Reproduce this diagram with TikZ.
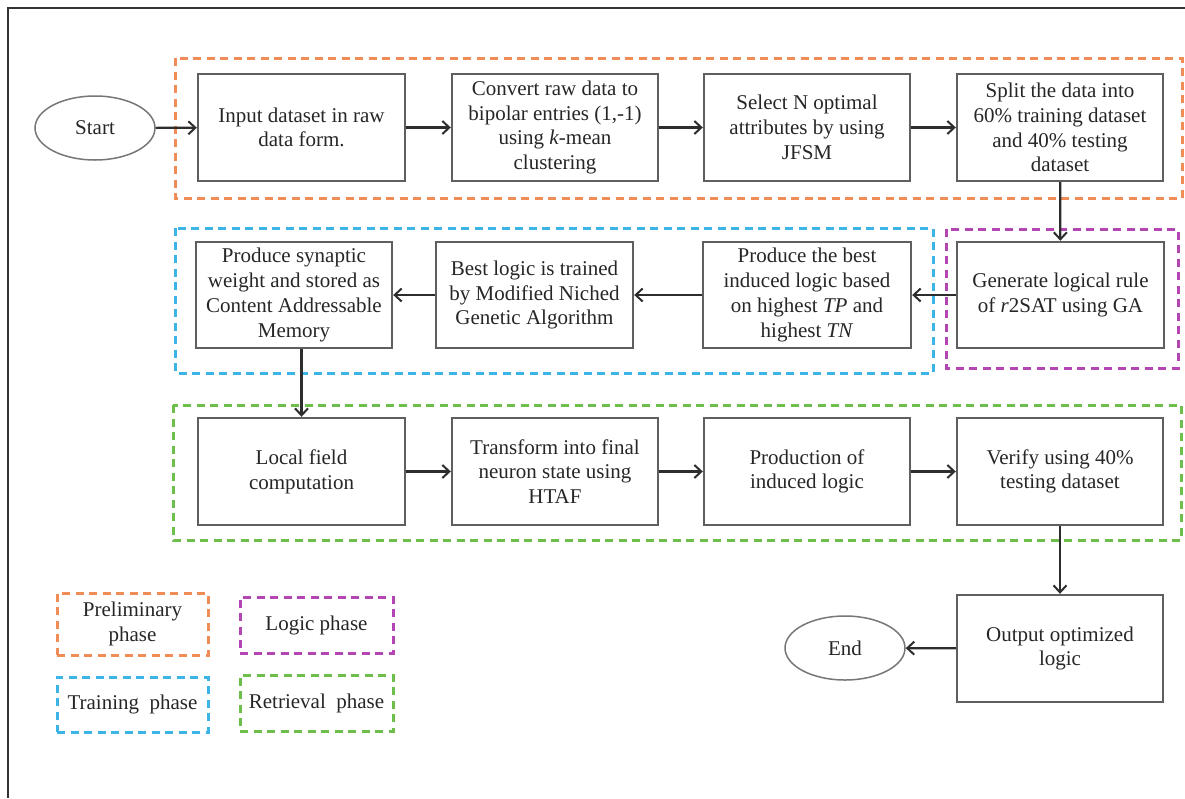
\documentclass[tikz,border=0pt]{standalone}
\usepackage{fontspec}
\setmainfont{Liberation Serif}
\usetikzlibrary{arrows.meta,shapes.geometric}
\definecolor{orng}{RGB}{240,140,85}
\definecolor{skyb}{RGB}{60,180,230}
\definecolor{purp}{RGB}{180,70,180}
\definecolor{grn}{RGB}{110,190,75}
\definecolor{boxline}{RGB}{95,95,95}
\definecolor{arrowc}{RGB}{45,45,45}
\begin{document}
\begin{tikzpicture}[x=1pt,y=-1pt,
  every node/.style={font=\fontsize{21}{24.7}\selectfont, text=black!85},
  procbox/.style={draw=boxline, line width=2.4pt, align=center, inner sep=0pt},
  termnode/.style={draw=boxline!85, line width=1.5pt, ellipse, minimum width=120pt, minimum height=64pt, inner sep=0pt},
  flow/.style={draw=arrowc, line width=2.2pt, -{Straight Barb[length=7pt,width=13pt,line width=2pt]}},
  phase/.style={dash pattern=on 8pt off 5.5pt, line width=3pt},
  legendbox/.style={phase, align=center, inner sep=0pt}
]
\useasboundingbox (0,0) rectangle (1185,798);
% frame
\draw[line width=1.8pt, black!80] (8,798) -- (8,8) -- (1185,8);

% phase regions
\draw[phase, orng] (175,58) rectangle (1182,198);
\draw[phase, skyb] (175,228) rectangle (933,373);
\draw[phase, purp] (946,229) rectangle (1178,368);
\draw[phase, grn] (173,405) rectangle (1181,540);

% row 1
\node[termnode] (start) at (95,128) {Start};
\node[procbox, minimum width=207pt, minimum height=107pt] (b1) at (301.5,127.5) {Input dataset in raw\\data form.};
\node[procbox, minimum width=206pt, minimum height=107pt] (b2) at (555,127.5) {Convert raw data to\\bipolar entries (1,-1)\\using \textit{k}-mean\\clustering};
\node[procbox, minimum width=206pt, minimum height=107pt] (b3) at (807,127.5) {Select N optimal\\attributes by using\\JFSM};
\node[procbox, minimum width=206pt, minimum height=107pt] (b4) at (1060,127.5) {Split the data into\\60\% training dataset\\and 40\% testing\\dataset};

% row 2
\node[procbox, minimum width=196pt, minimum height=106pt] (b5) at (294,295) {Produce synaptic\\weight and stored as\\Content Addressable\\Memory};
\node[procbox, minimum width=197pt, minimum height=106pt] (b6) at (534.5,295) {Best logic is trained\\by Modified Niched\\Genetic Algorithm};
\node[procbox, minimum width=208pt, minimum height=106pt] (b7) at (807,295) {Produce the best\\induced logic based\\on highest \textit{TP} and\\highest \textit{TN}};
\node[procbox, minimum width=207pt, minimum height=106pt] (b8) at (1060.5,295) {Generate logical rule\\of \textit{r}2SAT using GA};

% row 3
\node[procbox, minimum width=207pt, minimum height=107pt] (b9) at (301.5,471.5) {Local field\\computation};
\node[procbox, minimum width=206pt, minimum height=107pt] (b10) at (555,471.5) {Transform into final\\neuron state using\\HTAF};
\node[procbox, minimum width=206pt, minimum height=107pt] (b11) at (807,471.5) {Production of\\induced logic};
\node[procbox, minimum width=206pt, minimum height=107pt] (b12) at (1060,471.5) {Verify using 40\%\\testing dataset};

% end
\node[procbox, minimum width=206pt, minimum height=107pt] (b13) at (1060,648.5) {Output optimized\\logic};
\node[termnode] (end) at (845,648) {End};

% connectors
\draw[flow] (start) -- (b1);
\draw[flow] (b1) -- (b2);
\draw[flow] (b2) -- (b3);
\draw[flow] (b3) -- (b4);
\draw[flow] (b4) -- (b8);
\draw[flow] (b8) -- (b7);
\draw[flow] (b7) -- (b6);
\draw[flow] (b6) -- (b5);
\draw[flow] (b5.south -| b9.north) -- (b9.north);
\draw[flow] (b9) -- (b10);
\draw[flow] (b10) -- (b11);
\draw[flow] (b11) -- (b12);
\draw[flow] (b12) -- (b13);
\draw[flow] (b13) -- (end);

% legend
\node[legendbox, draw=orng, minimum width=151pt, minimum height=62pt] (lg1) at (132.5,624) {Preliminary\\phase};
\node[legendbox, draw=purp, minimum width=153pt, minimum height=56pt] (lg2) at (316.5,625) {Logic phase};
\node[legendbox, draw=skyb, minimum width=151pt, minimum height=55pt] (lg3) at (132.5,704.5) {Training\ \ phase};
\node[legendbox, draw=grn, minimum width=153pt, minimum height=56pt] (lg4) at (316.5,703) {Retrieval\ \ phase};
\end{tikzpicture}
\end{document}
